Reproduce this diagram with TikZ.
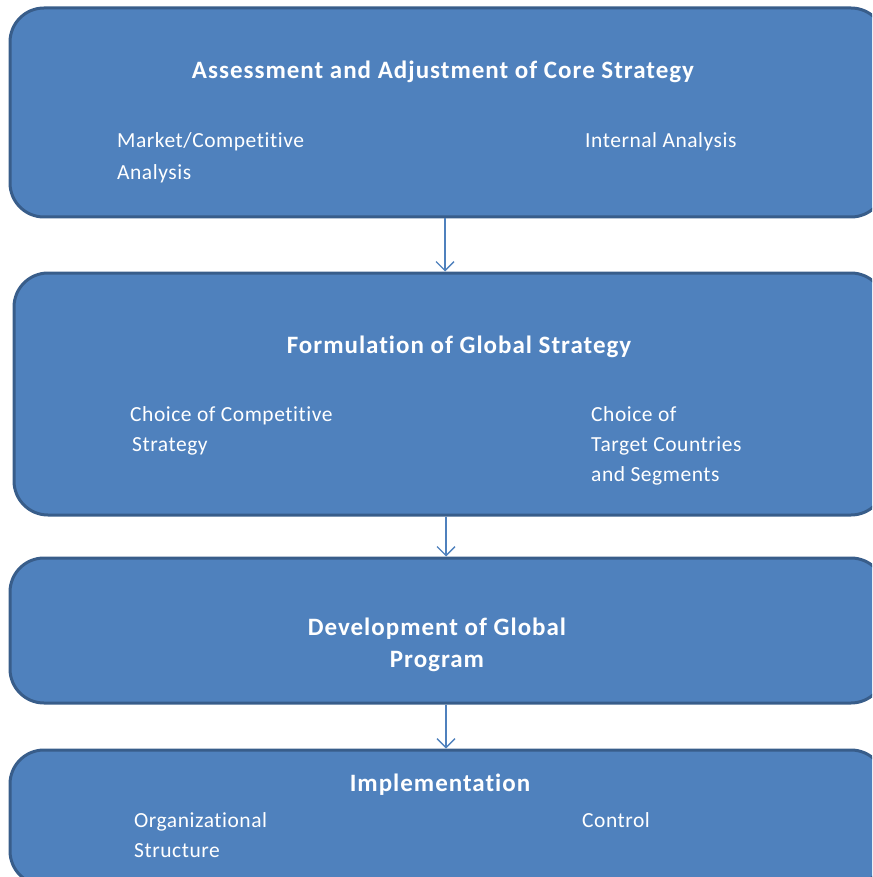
\documentclass[tikz,border=0pt]{standalone}
\usepackage{fontspec}
\setmainfont{Carlito}[Ligatures=NoCommon]
\newfontfamily\titlefont{Carlito}[LetterSpace=4,Ligatures=NoCommon]
\newfontfamily\bodyfont{Carlito}[LetterSpace=2.5,Ligatures=NoCommon]
\usetikzlibrary{arrows.meta}
\definecolor{boxfill}{HTML}{4F81BD}
\definecolor{boxline}{HTML}{385D8A}
\tikzset{
  box/.style={draw=boxline, fill=boxfill, line width=3pt, rounded corners=34pt, inner sep=0pt},
  ttl/.style={text=white, font=\titlefont\fontsize{25}{32}\selectfont\bfseries, align=center, inner sep=0pt},
  txt/.style={text=white, font=\bodyfont\fontsize{21.5}{30}\selectfont, align=left, inner sep=0pt},
  conn/.style={draw=boxfill, line width=1.3pt, -{Straight Barb[length=9pt,width=18pt,line width=1.3pt]}}
}
\begin{document}
\begin{tikzpicture}[x=1pt,y=-1pt]
\useasboundingbox (0,0) rectangle (872,877);
\clip (0,0) rectangle (872,877);
\node[box, minimum width=875pt, minimum height=209pt] (b1) at (447.5,112.5) {};
\node[box, minimum width=871pt, minimum height=242pt] (b2) at (449.5,394) {};
\node[box, minimum width=875pt, minimum height=145pt] (b3) at (447.5,630.5) {};
\node[box, minimum width=875pt, minimum height=135pt] (b4) at (447.5,817.5) {};

\node[ttl] (t1) at (443,72) {Assessment and Adjustment of Core Strategy};
\node[txt, anchor=north west, font=\bodyfont\fontsize{21.5}{32}\selectfont] (m1) at (117,132) {Market/Competitive\\Analysis};
\node[txt, anchor=north west] (i1) at (585,132) {Internal Analysis};

\node[ttl] (t2) at (459,347) {Formulation of Global Strategy};
\node[txt, anchor=north west] (c2) at (130,406) {Choice of Competitive\\\hspace*{2pt}Strategy};
\node[txt, anchor=north west] (g2) at (591,406) {Choice of\\Target Countries\\and Segments};

\node[ttl] (t3) at (437,645) {Development of Global\\Program};

\node[ttl] (t4) at (440,785) {Implementation};
\node[txt, anchor=north west] (o4) at (134,812) {Organizational\\Structure};
\node[txt, anchor=north west] (k4) at (582,812) {Control};

\draw[conn] ([xshift=-2.5pt]b1.south) -- ([xshift=-4.5pt]b2.north);
\draw[conn] ([xshift=-3.5pt]b2.south) -- ([xshift=-1.5pt]b3.north);
\draw[conn] ([xshift=-1.5pt]b3.south) -- ([xshift=-1.5pt]b4.north);
\end{tikzpicture}
\end{document}
